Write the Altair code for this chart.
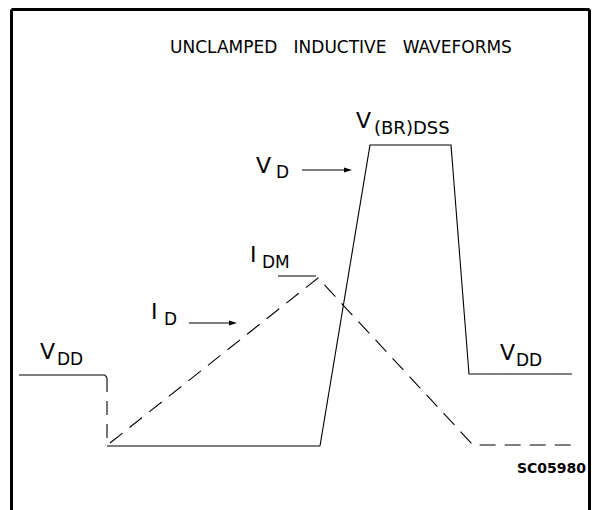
import altair as alt
import pandas as pd

# ---- waveform data (time in arbitrary units, level in arbitrary units) ----
# V_D : drain voltage
vd_seg = ["a", "a", "a", "b", "b", "c", "c", "c", "c", "c", "c"]
vd_style = ["solid", "solid", "solid", "dashed", "dashed",
            "solid", "solid", "solid", "solid", "solid", "solid"]
vd_time = [19, 105, 107, 107, 107, 107, 320, 370, 451, 469, 572]
vd_level = [135, 135, 132, 132, 64, 64, 64, 365, 365, 136, 136]

# I_D : drain current (dashed)
id_time = [110, 318, 473, 572]
id_level = [67, 232, 65, 65]

# I_DM marker line
idm_time = [278, 316]
idm_level = [234, 234]

# ---- labels ----
lab_text = ["V", "DD", "V", "DD", "V", "D", "V", "(BR)DSS", "I", "DM", "I", "D"]
lab_time = [40, 57, 500, 516, 256, 276, 356, 374, 250, 262, 151, 164]
lab_level = [151, 145, 150, 144, 337, 332, 382, 376, 248, 242, 191, 185]
lab_size = [22, 17, 22, 17, 22, 17, 22, 18, 22, 17, 22, 17]

title_text = ["UNCLAMPED \u00a0\u00a0INDUCTIVE \u00a0\u00a0WAVEFORMS"]
title_time = [341]
title_level = [457]

code_text = ["SC05980"]
code_time = [517]
code_level = [37]

# arrows: shaft start/end
arr_name = ["vd", "vd", "id", "id"]
arr_time = [302, 347, 189, 232]
arr_level = [340, 340, 187, 187]
tip_time = [352, 237]
tip_level = [340, 187]

# frame
frame_left = [11.5]
frame_right = [589.5]
frame_top = [500.5]
frame_bottom = [0]

W, H = 583, 492
xs = alt.Scale(domain=[8, 8 + W], nice=False, zero=False)
ys = alt.Scale(domain=[510 - 8 - H, 502], nice=False, zero=False)
FONT = "DejaVu Sans"

vd_df = pd.DataFrame({"t": vd_time, "v": vd_level, "seg": vd_seg,
                      "style": vd_style, "o": list(range(len(vd_time)))})
id_df = pd.DataFrame({"t": id_time, "v": id_level, "o": list(range(len(id_time)))})
idm_df = pd.DataFrame({"t": idm_time, "v": idm_level})
lab_df = pd.DataFrame({"txt": lab_text, "t": lab_time, "v": lab_level, "fs": lab_size})
title_df = pd.DataFrame({"txt": title_text, "t": title_time, "v": title_level})
code_df = pd.DataFrame({"txt": code_text, "t": code_time, "v": code_level})
arr_df = pd.DataFrame({"n": arr_name, "t": arr_time, "v": arr_level})
tip_df = pd.DataFrame({"t": tip_time, "v": tip_level})

X = lambda: alt.X("t:Q", scale=xs, axis=None)
Y = lambda: alt.Y("v:Q", scale=ys, axis=None)

vd = alt.Chart(vd_df).mark_line(color="black", strokeWidth=1.1).encode(
    x=X(), y=Y(), detail="seg:N", order="o:Q",
    strokeDash=alt.StrokeDash("style:N", scale=alt.Scale(domain=["solid", "dashed"],
                                                          range=[[1, 0], [14, 9]]), legend=None),
)
idl = alt.Chart(id_df).mark_line(color="black", strokeWidth=1.1, strokeDash=[16, 9]).encode(
    x=X(), y=Y(), order="o:Q")
idm = alt.Chart(idm_df).mark_line(color="black", strokeWidth=1.1).encode(x=X(), y=Y())

labels = alt.Chart(lab_df).mark_text(align="left", baseline="alphabetic", font=FONT,
                                     color="black").encode(
    x=X(), y=Y(), text="txt:N", size=alt.Size("fs:Q", scale=None))
title = alt.Chart(title_df).mark_text(align="center", baseline="alphabetic", font=FONT,
                                      fontSize=17, color="black").encode(
    x=X(), y=Y(), text="txt:N")
code = alt.Chart(code_df).mark_text(align="left", baseline="alphabetic", font=FONT,
                                    fontSize=14, fontWeight="bold", color="black").encode(
    x=X(), y=Y(), text="txt:N")
arrows = alt.Chart(arr_df).mark_line(color="black", strokeWidth=1.2).encode(
    x=X(), y=Y(), detail="n:N")
tips = alt.Chart(tip_df).mark_point(shape="M0,0L-2,-0.6L-2,0.6Z", size=64, filled=True,
                                    color="black", opacity=1).encode(x=X(), y=Y())

frame_df = pd.DataFrame({"l": frame_left, "r": frame_right, "tp": frame_top, "b": frame_bottom})
fl = alt.Chart(frame_df).mark_rule(color="black", strokeWidth=3).encode(
    x=alt.X("l:Q", scale=xs, axis=None), y=alt.Y("b:Q", scale=ys, axis=None), y2="tp:Q")
fr = alt.Chart(frame_df).mark_rule(color="black", strokeWidth=3).encode(
    x=alt.X("r:Q", scale=xs, axis=None), y=alt.Y("b:Q", scale=ys, axis=None), y2="tp:Q")
ft = alt.Chart(frame_df).mark_rule(color="black", strokeWidth=3).encode(
    x=alt.X("l:Q", scale=xs, axis=None), x2="r:Q", y=alt.Y("tp:Q", scale=ys, axis=None))

chart = alt.layer(fl, fr, ft, vd, idl, idm, arrows, tips, labels, title, code).properties(
    width=W, height=H, padding=0, background="white",
).configure_view(stroke=None)

chart.save("out.html", embed_options={"renderer": "svg", "actions": False})
